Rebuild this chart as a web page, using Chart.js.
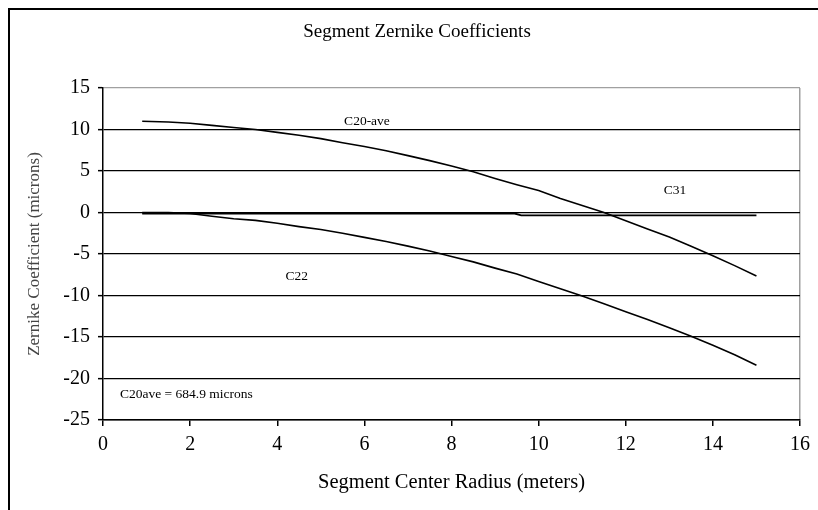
<!DOCTYPE html>
<html>
<head>
<meta charset="utf-8">
<title>Segment Zernike Coefficients</title>
<script src="https://cdn.jsdelivr.net/npm/chart.js@4.4.1/dist/chart.umd.min.js"></script>
<style>
  html, body { margin: 0; padding: 0; background: #fff; }
  #wrap { width: 818px; height: 510px; }
  canvas { display: block; }
</style>
</head>
<body>
<div id="wrap"><canvas id="chart" width="818" height="510"></canvas></div>
<script>
// Segment center radius (m) and Zernike coefficients (microns)
const radius = [0.9, 1.5, 2.0, 2.5, 3.0, 3.5, 4.0, 4.5, 5.0, 5.5, 6.0, 6.5, 7.0, 7.5,
                8.0, 8.5, 9.0, 9.5, 10.0, 10.5, 11.0, 11.5, 12.0, 12.5, 13.0, 13.5,
                14.0, 14.5, 15.0];
const c20ave = [11.0, 10.9, 10.75, 10.5, 10.25, 10.0, 9.65, 9.3, 8.9, 8.4, 7.95, 7.45,
                6.85, 6.25, 5.6, 4.9, 4.1, 3.35, 2.65, 1.7, 0.85, 0.0, -0.98, -1.98,
                -2.95, -4.06, -5.2, -6.4, -7.65];
const c22 = [0.0, 0.0, -0.12, -0.45, -0.75, -0.95, -1.3, -1.7, -2.05, -2.5, -3.0, -3.5,
             -4.05, -4.65, -5.3, -5.95, -6.7, -7.4, -8.3, -9.2, -10.05, -11.0, -11.95,
             -12.9, -13.9, -14.9, -16.0, -17.15, -18.4];
const c31Radius = [0.9, 9.45, 9.6, 15.0];
const c31 = [-0.12, -0.12, -0.35, -0.35];

// Axis ranges and ticks
const xRange = [0, 16], xStep = 2;
const yRange = [-25, 15], yStep = 5;

// Text notes placed in data coordinates
const notes = [
  { text: 'C20-ave', x: 6.06, y: 10.95, align: 'center' },
  { text: 'C31', x: 13.13, y: 2.65, align: 'center' },
  { text: 'C22', x: 4.45, y: -7.7, align: 'center' },
  { text: 'C20ave = 684.9 microns', x: 0.39, y: -21.9, align: 'left' }
];

const SERIF = "'Liberation Serif', 'Times New Roman', serif";

const pts = (xs, ys) => xs.map((x, i) => ({ x, y: ys[i] }));

const lineStyle = {
  borderColor: '#000',
  borderWidth: 1.6,
  pointRadius: 0,
  pointHoverRadius: 0,
  tension: 0,
  fill: false,
  showLine: true
};

const framePlugin = {
  id: 'frame',
  beforeDraw(chart) {
    const ctx = chart.ctx;
    ctx.save();
    ctx.fillStyle = '#fff';
    ctx.fillRect(0, 0, chart.width, chart.height);
    ctx.strokeStyle = '#000';
    ctx.lineWidth = 2;
    ctx.strokeRect(9, 9, chart.width + 20, chart.height + 20);
    ctx.restore();
  },
  afterDraw(chart) {
    const ctx = chart.ctx;
    const xs = chart.scales.x, ys = chart.scales.y;
    ctx.save();
    ctx.fillStyle = '#000';
    ctx.textBaseline = 'middle';
    ctx.font = "19px " + SERIF;
    ctx.textAlign = 'center';
    ctx.fillText('Segment Zernike Coefficients', 417, 32);
    ctx.font = "13.5px " + SERIF;
    notes.forEach(n => {
      ctx.textAlign = n.align;
      ctx.fillText(n.text, xs.getPixelForValue(n.x), ys.getPixelForValue(n.y));
    });
    ctx.restore();
  }
};

new Chart(document.getElementById('chart'), {
  type: 'scatter',
  data: {
    datasets: [
      { label: 'C20-ave', data: pts(radius, c20ave), ...lineStyle },
      { label: 'C22', data: pts(radius, c22), ...lineStyle },
      { label: 'C31', data: pts(c31Radius, c31), ...lineStyle, borderWidth: 1.9 }
    ]
  },
  options: {
    responsive: false,
    animation: false,
    events: [],
    layout: { padding: { top: 88, left: 10, right: 18, bottom: 10 } },
    plugins: {
      legend: { display: false },
      title: { display: false },
      tooltip: { enabled: false }
    },
    scales: {
      x: {
        type: 'linear',
        min: xRange[0], max: xRange[1],
        afterFit(scale) { scale.height = 80; },
        ticks: {
          stepSize: xStep,
          color: '#000',
          font: { family: SERIF, size: 20 },
          padding: 7,
          maxRotation: 0
        },
        grid: {
          drawOnChartArea: true,
          color: c => (c.tick && c.tick.value === xRange[1]) ? '#a0a0a0' : 'rgba(0,0,0,0)',
          lineWidth: 1.5,
          drawTicks: true,
          tickLength: 6,
          tickColor: '#000',
          tickWidth: 1.5
        },
        border: { display: true, color: '#000', width: 1.5 },
        title: {
          display: true,
          text: 'Segment Center Radius (meters)',
          color: '#000',
          font: { family: SERIF, size: 20.5 },
          padding: { top: 0, bottom: 5 }
        }
      },
      y: {
        type: 'linear',
        min: yRange[0], max: yRange[1],
        afterFit(scale) { scale.width = 93; },
        ticks: {
          stepSize: yStep,
          color: '#000',
          font: { family: SERIF, size: 20 },
          padding: 8
        },
        grid: {
          color: c => (c.tick && c.tick.value === yRange[1]) ? '#a0a0a0' : '#000',
          lineWidth: 1.3,
          drawTicks: true,
          tickLength: 5,
          tickColor: '#000',
          tickWidth: 1.5
        },
        border: { display: true, color: '#000', width: 1.5 },
        title: {
          display: true,
          text: 'Zernike Coefficient (microns)',
          color: '#444',
          font: { family: SERIF, size: 17 },
          padding: { top: 14, bottom: 0 }
        }
      }
    }
  },
  plugins: [framePlugin]
});
</script>
</body>
</html>
